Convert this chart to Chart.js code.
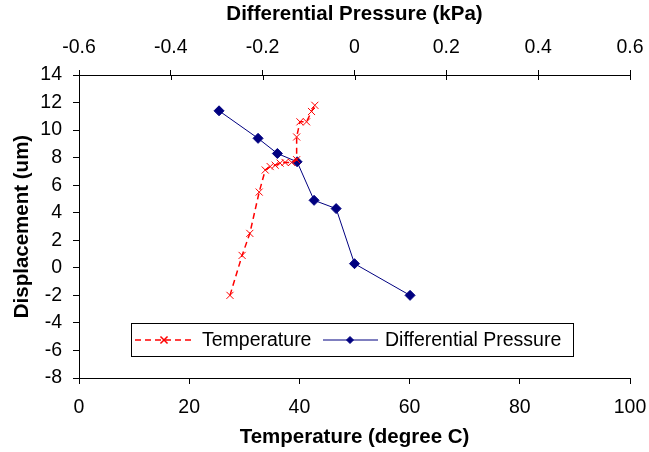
<!DOCTYPE html>
<html><head><meta charset="utf-8">
<script src="https://cdn.jsdelivr.net/npm/chart.js@4/dist/chart.umd.min.js"></script>
<style>html,body{margin:0;padding:0;background:#fff;overflow:hidden}</style>
</head><body>
<canvas id="c" width="649" height="452" style="display:block;width:649px;height:452px"></canvas>
<script>
// ---- data ----
const temperatureC    = [27.4, 29.6, 31.0, 32.7, 33.8, 34.7, 35.6, 36.5, 37.4, 38.6, 39.5, 39.5, 40.1, 41.3, 42.2, 42.8];
const temperatureDisp = [-2.0, 0.9, 2.5, 5.5, 7.1, 7.35, 7.45, 7.6, 7.65, 7.65, 7.85, 9.5, 10.6, 10.6, 11.35, 11.8];
const pressureKPa     = [-0.295, -0.21, -0.168, -0.125, -0.088, -0.04, 0.0, 0.121];
const pressureDisp    = [11.4, 9.4, 8.3, 7.7, 4.9, 4.3, 0.3, -2.0];
const tempTicks       = [0, 20, 40, 60, 80, 100];
const pressureTicks   = [-0.6, -0.4, -0.2, 0, 0.2, 0.4, 0.6];
const dispTicks       = [-8, -6, -4, -2, 0, 2, 4, 6, 8, 10, 12, 14];
const seriesNames     = ['Temperature', 'Differential Pressure'];
const axisTitles      = { temp: 'Temperature (degree C)', pressure: 'Differential Pressure (kPa)', disp: 'Displacement (um)' };

const FONT = '"Liberation Sans", Arial, sans-serif';
const RED = '#FF0000', NAVY = '#000080';

const tempData = temperatureC.map((t, i) => ({ x: t, y: temperatureDisp[i] }));
const presData = pressureKPa.map((p, i) => ({ x: p, y: pressureDisp[i] }));

const fixTicks = arr => s => { s.ticks = arr.map(v => ({ value: v })); };
const noPad = s => { s.paddingLeft = 0; s.paddingRight = 0; s.paddingTop = 0; s.paddingBottom = 0; };

const legendPlugin = {
  id: 'boxLegend',
  afterDraw(chart) {
    const ctx = chart.ctx;
    const H = Chart.helpers;
    ctx.save();
    ctx.strokeStyle = '#000'; ctx.lineWidth = 1;
    ctx.strokeRect(131.5, 323.5, 442, 33);
    const cy = 340;
    const d0 = chart.data.datasets[0], d1 = chart.data.datasets[1];
    ctx.strokeStyle = d0.borderColor; ctx.lineWidth = d0.borderWidth;
    ctx.setLineDash(d0.borderDash);
    ctx.beginPath(); ctx.moveTo(135, cy); ctx.lineTo(194, cy); ctx.stroke();
    ctx.setLineDash([]);
    H.drawPoint(ctx, { pointStyle: d0.pointStyle, radius: d0.pointRadius, borderWidth: 1, rotation: 0 }, 164, cy);
    ctx.fillStyle = '#000';
    ctx.font = '19.5px ' + FONT; ctx.textBaseline = 'middle'; ctx.textAlign = 'left';
    ctx.fillText(seriesNames[0], 202, cy + 1);
    ctx.strokeStyle = d1.borderColor; ctx.lineWidth = d1.borderWidth;
    ctx.beginPath(); ctx.moveTo(323, cy); ctx.lineTo(378, cy); ctx.stroke();
    ctx.fillStyle = d1.pointBackgroundColor; ctx.strokeStyle = d1.pointBorderColor;
    H.drawPoint(ctx, { pointStyle: d1.pointStyle, radius: 3.5, borderWidth: 1, rotation: 0 }, 350, cy);
    ctx.fillStyle = '#000';
    ctx.fillText(seriesNames[1], 385, cy + 1);
    const x2 = chart.scales.x2;
    ctx.strokeStyle = '#000'; ctx.lineWidth = 1;
    x2.ticks.forEach(t => {
      const px = Math.round(x2.getPixelForValue(t.value)) + 0.5;
      ctx.beginPath(); ctx.moveTo(px, chart.chartArea.top); ctx.lineTo(px, chart.chartArea.top + 5); ctx.stroke();
    });
    ctx.restore();
  }
};

new Chart(document.getElementById('c'), {
  type: 'scatter',
  data: {
    datasets: [
      {
        label: seriesNames[0], data: tempData, xAxisID: 'x', yAxisID: 'y',
        showLine: true, borderColor: RED, backgroundColor: RED, borderWidth: 1.5, borderDash: [6, 4],
        pointStyle: 'crossRot', pointRadius: 5, pointBorderWidth: 1, pointBorderColor: RED, pointBackgroundColor: RED
      },
      {
        label: seriesNames[1], data: presData, xAxisID: 'x2', yAxisID: 'y',
        showLine: true, borderColor: NAVY, backgroundColor: NAVY, borderWidth: 1,
        pointStyle: 'rectRot', pointRadius: 5, pointBorderWidth: 1, pointBorderColor: NAVY, pointBackgroundColor: NAVY
      }
    ]
  },
  options: {
    responsive: false, animation: false, devicePixelRatio: 1,
    layout: { padding: { left: 0, right: 19, top: 0, bottom: 0 } },
    plugins: { legend: { display: false }, tooltip: { enabled: false } },
    scales: {
      x: {
        type: 'linear', position: 'bottom', min: 0, max: 100,
        afterBuildTicks: fixTicks(tempTicks),
        afterFit: s => { noPad(s); s.height = 74; },
        border: { display: true, color: '#000', width: 1 },
        grid: { drawOnChartArea: false, drawTicks: true, tickLength: 6, color: '#000' },
        ticks: { color: '#000', font: { family: FONT, size: 19.5 }, padding: 12, maxRotation: 0, autoSkip: false },
        title: { display: true, text: axisTitles.temp, color: '#000', font: { family: FONT, size: 20.5, weight: 'bold' }, padding: { top: 2, bottom: 2 } }
      },
      x2: {
        type: 'linear', position: 'top', min: -0.6, max: 0.6,
        afterBuildTicks: fixTicks(pressureTicks),
        afterFit: s => { noPad(s); s.height = 75; },
        border: { display: true, color: '#000', width: 1 },
        grid: { drawOnChartArea: false, drawTicks: true, tickLength: 5, color: '#000' },
        ticks: { color: '#000', font: { family: FONT, size: 19.5 }, padding: 11, maxRotation: 0, autoSkip: false, callback: v => String(Math.round(v * 10) / 10) },
        title: { display: true, text: axisTitles.pressure, color: '#000', font: { family: FONT, size: 20.5, weight: 'bold' }, padding: { top: 2, bottom: 2 } }
      },
      y: {
        type: 'linear', position: 'left', min: -8, max: 14,
        afterBuildTicks: fixTicks(dispTicks),
        afterFit: s => { noPad(s); s.width = 79; },
        border: { display: true, color: '#000', width: 1 },
        grid: { drawOnChartArea: false, drawTicks: true, tickLength: 6, color: '#000' },
        ticks: { color: '#000', font: { family: FONT, size: 19.5 }, padding: 11, autoSkip: false },
        title: { display: true, text: axisTitles.disp, color: '#000', font: { family: FONT, size: 20.5, weight: 'bold' }, padding: { top: 10, bottom: 2 } }
      }
    }
  },
  plugins: [legendPlugin]
});
</script>
</body></html>
